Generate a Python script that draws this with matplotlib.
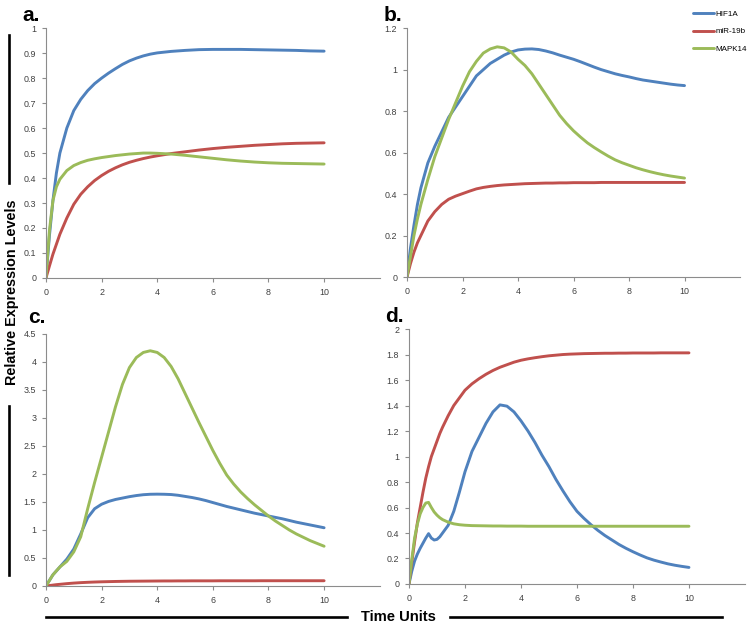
import matplotlib
matplotlib.use('Agg')
import matplotlib.pyplot as plt
from matplotlib.lines import Line2D
from matplotlib.ticker import FuncFormatter

plt.rcParams['font.family'] = ['Liberation Sans', 'DejaVu Sans']

# time points
t_a = [0, 0.125, 0.25, 0.375, 0.5, 0.75, 1, 1.25, 1.5, 1.75, 2, 2.25, 2.5, 2.75, 3, 3.25,
       3.5, 3.75, 4, 4.5, 5, 5.5, 6, 6.5, 7, 7.5, 8, 8.5, 9, 9.5, 10]
t_bc = [0, 0.125, 0.25, 0.375, 0.5, 0.75, 1, 1.25, 1.5, 1.75, 2, 2.25, 2.5, 2.75, 3, 3.25,
        3.5, 3.75, 4, 4.25, 4.5, 4.75, 5, 5.25, 5.5, 5.75, 6, 6.25, 6.5, 6.75, 7, 7.25, 7.5,
        7.75, 8, 8.25, 8.5, 8.75, 9, 9.25, 9.5, 9.75, 10]
t_d = [0, 0.1, 0.2, 0.3, 0.4, 0.5, 0.6, 0.7, 0.8, 0.9, 1.0, 1.1, 1.2, 1.4, 1.6, 1.8, 2.0,
       2.25, 2.5, 2.75, 3, 3.25, 3.5, 3.75, 4, 4.25, 4.5, 4.75, 5, 5.25, 5.5, 5.75, 6, 6.25,
       6.5, 6.75, 7, 7.25, 7.5, 7.75, 8, 8.25, 8.5, 8.75, 9, 9.25, 9.5, 9.75, 10]

series_names = ['HIF1A', 'miR-19b', 'MAPK14']
colors = ['#4F81BD', '#C0504D', '#9BBB59']

# panel a
a_hif = [0, 0.17, 0.31, 0.42, 0.5, 0.6, 0.67, 0.715, 0.75, 0.778, 0.8, 0.82, 0.838, 0.855, 0.869, 0.88,
         0.889, 0.896, 0.901, 0.907, 0.911, 0.914, 0.915, 0.915, 0.915, 0.914, 0.913, 0.912, 0.911, 0.909, 0.908]
a_mir = [0, 0.048, 0.095, 0.135, 0.175, 0.24, 0.295, 0.335, 0.365, 0.39, 0.41, 0.427, 0.441, 0.453, 0.463, 0.471,
         0.478, 0.484, 0.489, 0.498, 0.505, 0.512, 0.518, 0.523, 0.527, 0.531, 0.534, 0.537, 0.539, 0.54, 0.541]
a_mapk = [0, 0.19, 0.31, 0.365, 0.395, 0.43, 0.45, 0.462, 0.471, 0.477, 0.482, 0.486, 0.49, 0.493, 0.496, 0.498,
          0.5, 0.5, 0.499, 0.496, 0.491, 0.485, 0.479, 0.473, 0.468, 0.464, 0.461, 0.459, 0.458, 0.457, 0.456]

# panel b
b_hif = [0, 0.14, 0.25, 0.35, 0.43, 0.55, 0.63, 0.7, 0.77, 0.82, 0.87, 0.92, 0.97, 1.0, 1.03, 1.05,
         1.07, 1.085, 1.095, 1.099, 1.1, 1.097, 1.09, 1.081, 1.07, 1.06, 1.05, 1.038, 1.025, 1.012, 1.0,
         0.99, 0.98, 0.972, 0.965, 0.957, 0.95, 0.945, 0.94, 0.935, 0.93, 0.926, 0.923]
b_mir = [0, 0.065, 0.12, 0.165, 0.2, 0.27, 0.315, 0.35, 0.375, 0.39, 0.402, 0.414, 0.425, 0.432, 0.437, 0.441,
         0.444, 0.446, 0.448, 0.45, 0.451, 0.452, 0.453, 0.453, 0.454, 0.454, 0.455, 0.455, 0.455, 0.455, 0.456,
         0.456, 0.456, 0.456, 0.456, 0.456, 0.456, 0.456, 0.456, 0.456, 0.456, 0.456, 0.456]
b_mapk = [0, 0.1, 0.2, 0.28, 0.35, 0.47, 0.58, 0.67, 0.76, 0.84, 0.92, 0.99, 1.04, 1.08, 1.1, 1.11,
          1.105, 1.085, 1.05, 1.02, 0.98, 0.93, 0.88, 0.83, 0.78, 0.74, 0.705, 0.675, 0.647, 0.624, 0.603,
          0.583, 0.565, 0.551, 0.539, 0.527, 0.517, 0.508, 0.5, 0.493, 0.487, 0.482, 0.477]

# panel c
c_hif = [0, 0.1, 0.2, 0.27, 0.34, 0.48, 0.66, 0.93, 1.22, 1.38, 1.46, 1.51, 1.545, 1.57, 1.595, 1.615,
         1.63, 1.638, 1.64, 1.638, 1.633, 1.62, 1.6, 1.58, 1.555, 1.525, 1.49, 1.455, 1.42, 1.39, 1.36,
         1.33, 1.3, 1.275, 1.25, 1.225, 1.2, 1.17, 1.14, 1.115, 1.09, 1.065, 1.04]
c_mir = [0, 0.008, 0.016, 0.024, 0.03, 0.042, 0.052, 0.06, 0.066, 0.071, 0.075, 0.078, 0.081, 0.083, 0.085, 0.086,
         0.087, 0.088, 0.089, 0.09, 0.09, 0.091, 0.091, 0.092, 0.092, 0.092, 0.092, 0.093, 0.093, 0.093, 0.093,
         0.093, 0.093, 0.094, 0.094, 0.094, 0.094, 0.094, 0.094, 0.094, 0.094, 0.094, 0.094]
c_mapk = [0, 0.1, 0.2, 0.27, 0.34, 0.44, 0.61, 0.88, 1.38, 1.85, 2.3, 2.75, 3.2, 3.6, 3.9, 4.08,
          4.17, 4.2, 4.17, 4.08, 3.92, 3.7, 3.44, 3.18, 2.92, 2.67, 2.42, 2.19, 1.98, 1.82, 1.68,
          1.56, 1.45, 1.35, 1.25, 1.16, 1.08, 1.0, 0.93, 0.87, 0.81, 0.76, 0.71]

# panel d
d_hif = [0, 0.1, 0.18, 0.235, 0.28, 0.32, 0.36, 0.395, 0.36, 0.345, 0.35, 0.37, 0.4, 0.46, 0.57, 0.72, 0.88,
         1.04, 1.15, 1.26, 1.35, 1.405, 1.395, 1.35, 1.28, 1.2, 1.11, 1.01, 0.92, 0.82, 0.73, 0.645, 0.57,
         0.515, 0.465, 0.42, 0.38, 0.345, 0.31, 0.28, 0.253, 0.228, 0.205, 0.187, 0.172, 0.158, 0.147,
         0.138, 0.13]
d_mir = [0, 0.17, 0.33, 0.48, 0.6, 0.72, 0.83, 0.92, 1.0, 1.06, 1.12, 1.18, 1.23, 1.32, 1.4, 1.46, 1.52,
         1.57, 1.61, 1.645, 1.675, 1.7, 1.72, 1.74, 1.755, 1.766, 1.775, 1.783, 1.79, 1.795, 1.8, 1.803,
         1.805, 1.807, 1.808, 1.809, 1.81, 1.81, 1.811, 1.811, 1.812, 1.812, 1.812, 1.812, 1.813, 1.813,
         1.813, 1.813, 1.813]
d_mapk = [0, 0.19, 0.36, 0.47, 0.55, 0.6, 0.635, 0.64, 0.6, 0.565, 0.54, 0.52, 0.505, 0.485, 0.472, 0.465,
          0.461, 0.458, 0.457, 0.456, 0.455, 0.455, 0.454, 0.454, 0.454, 0.453, 0.453, 0.453, 0.453, 0.453,
          0.453, 0.453, 0.453, 0.453, 0.453, 0.453, 0.453, 0.453, 0.453, 0.453, 0.453, 0.453, 0.453, 0.453,
          0.453, 0.453, 0.453, 0.453, 0.453]

xticks = [0, 2, 4, 6, 8, 10]
yticks_a = [0, 0.1, 0.2, 0.3, 0.4, 0.5, 0.6, 0.7, 0.8, 0.9, 1]
yticks_b = [0, 0.2, 0.4, 0.6, 0.8, 1, 1.2]
yticks_c = [0, 0.5, 1, 1.5, 2, 2.5, 3, 3.5, 4, 4.5]
yticks_d = [0, 0.2, 0.4, 0.6, 0.8, 1, 1.2, 1.4, 1.6, 1.8, 2]

fig = plt.figure(figsize=(7.5, 6.26), dpi=100)


def panel(rect, t, hif, mir, mapk, yticks):
    ax = fig.add_axes(rect)
    lines = []
    for vals, c in zip([hif, mir, mapk], colors):
        ln, = ax.plot(t, vals, color=c, lw=2.1, solid_capstyle='round', solid_joinstyle='round')
        lines.append(ln)
    ax.set_xlim(0, 12)
    ax.set_ylim(0, yticks[-1])
    ax.set_xticks(xticks)
    ax.set_yticks(yticks)
    ax.yaxis.set_major_formatter(FuncFormatter(lambda v, p: '%g' % v))
    for s in ['top', 'right']:
        ax.spines[s].set_visible(False)
    for s in ['left', 'bottom']:
        ax.spines[s].set_color('#8c8c8c')
        ax.spines[s].set_linewidth(0.8)
    ax.tick_params(colors='#8c8c8c', labelcolor='#404040', labelsize=6.4,
                   length=3, width=0.8, pad=4)
    return lines


handles = panel([0.0613, 0.556, 0.445, 0.399], t_a, a_hif, a_mir, a_mapk, yticks_a)
panel([0.5427, 0.5575, 0.444, 0.3975], t_bc, b_hif, b_mir, b_mapk, yticks_b)
panel([0.0613, 0.0639, 0.445, 0.4026], t_bc, c_hif, c_mir, c_mapk, yticks_c)
panel([0.5453, 0.0671, 0.448, 0.4073], t_d, d_hif, d_mir, d_mapk, yticks_d)

fig.legend(handles, series_names, loc='upper left', bbox_to_anchor=(0.924, 0.984),
           frameon=False, fontsize=5.8, handlelength=2.6, handletextpad=0.15,
           labelspacing=1.25, borderpad=0, borderaxespad=0)

# panel letters
for x, y, s in [(0.0293, 0.967, 'a.'), (0.511, 0.967, 'b.'), (0.0373, 0.484, 'c.'), (0.513, 0.486, 'd.')]:
    fig.text(x, y, s, fontsize=15, fontweight='bold', va='baseline', ha='left')

# shared axis titles with their bars
fig.text(0.016, 0.533, 'Relative Expression Levels', rotation=90, ha='center', va='center',
         fontsize=10.4, fontweight='bold')
fig.text(0.531, 0.0144, 'Time Units', ha='center', va='center',
         fontsize=10.6, fontweight='bold')

for xs, ys in [([0.012, 0.012], [0.944, 0.7077]), ([0.012, 0.012], [0.3514, 0.0815]),
               ([0.0613, 0.4627], [0.0144, 0.0144]), ([0.6, 0.9627], [0.0144, 0.0144])]:
    fig.add_artist(Line2D(xs, ys, transform=fig.transFigure, color='black', lw=1.9))

plt.savefig('out.png', dpi=100)
